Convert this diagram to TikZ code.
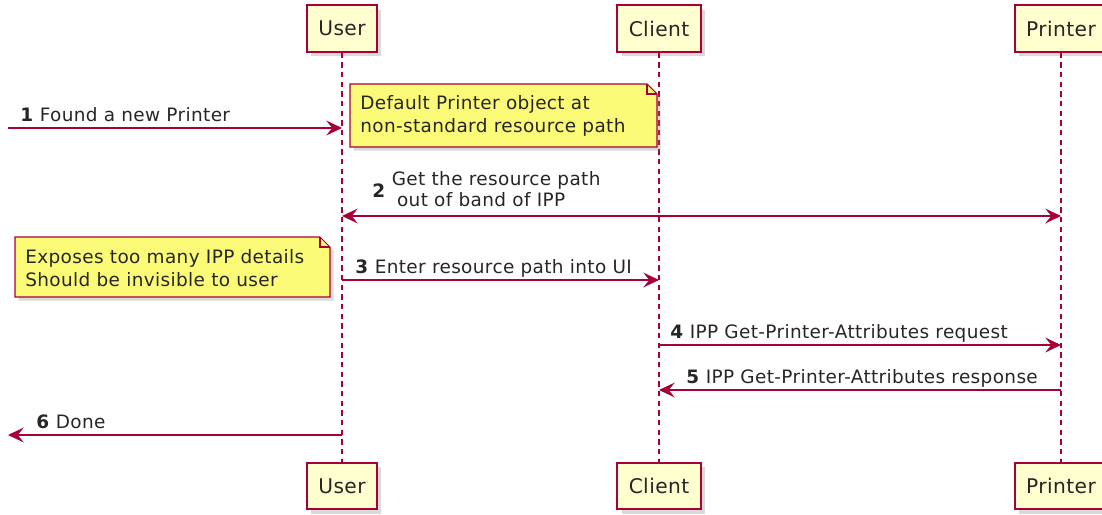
\documentclass[tikz,border=0pt]{standalone}
\usepackage{fontspec}
\setmainfont{DejaVu Sans}[LetterSpace=2]
\usetikzlibrary{arrows.meta, shadows}
\definecolor{umlred}{HTML}{A80036}
\definecolor{umlbox}{HTML}{FEFECE}
\definecolor{umlnote}{HTML}{FBFB77}
\tikzset{
	part/.style={rectangle, draw=umlred, fill=umlbox, line width=1.1pt, minimum height=26.6pt, inner xsep=6.5pt, font=\fontsize{11.5}{13}\selectfont, text=black!85, drop shadow={shadow xshift=2.5pt, shadow yshift=-2.5pt, opacity=0.3}},
	life/.style={umlred, line width=0.6pt, dash pattern=on 3pt off 2.5pt},
	msg/.style={umlred, line width=0.6pt, -{Stealth[length=9pt, width=8.5pt, inset=3.5pt]}},
	msgboth/.style={umlred, line width=0.6pt, {Stealth[length=9pt, width=8.5pt, inset=3.5pt]}-{Stealth[length=9pt, width=8.5pt, inset=3.5pt]}},
	lbl/.style={anchor=base west, inner sep=0pt, font=\fontsize{10.5}{12}\selectfont, text=black!85},
	notebox/.style={draw=umlred, fill=umlnote, line width=0.6pt, drop shadow={shadow xshift=2pt, shadow yshift=-2pt, opacity=0.3}},
	notetext/.style={anchor=west, inner sep=0pt, align=left, font=\fontsize{10.5}{13}\selectfont, text=black!85}
}
\begin{document}
\begin{tikzpicture}[x=0.02cm, y=-0.02cm]
	\useasboundingbox (0,0) rectangle (1102,514);
	\def\xu{342}
	\def\xc{659}
	\def\xp{1061}
	\def\yt{28.5}
	\def\yb{486}
	\def\xo{8}
	\node[part] (userT) at (\xu,\yt) {User};
	\node[part] (clientT) at (\xc,\yt) {Client};
	\node[part] (printerT) at (\xp,\yt) {Printer};
	\node[part] (userB) at (\xu,\yb) {User};
	\node[part] (clientB) at (\xc,\yb) {Client};
	\node[part] (printerB) at (\xp,\yb) {Printer};
	\draw[life] (userT) -- (userB);
	\draw[life] (clientT) -- (clientB);
	\draw[life] (printerT) -- (printerB);
%%%%
	\coordinate (in1) at (\xo,128);
	\coordinate (u1) at (\xu,128);
	\coordinate (u2) at (\xu,216);
	\coordinate (p2) at (\xp,216);
	\coordinate (u3) at (\xu,280);
	\coordinate (c3) at (\xc,280);
	\coordinate (c4) at (\xc,345);
	\coordinate (p4) at (\xp,345);
	\coordinate (c5) at (\xc,390);
	\coordinate (p5) at (\xp,390);
	\coordinate (u6) at (\xu,435);
	\coordinate (out6) at (\xo,435);
	\draw[msg] (in1) -- (u1);
	\draw[msgboth] (u2) -- (p2);
	\draw[msg] (u3) -- (c3);
	\draw[msg] (c4) -- (p4);
	\draw[msg] (p5) -- (c5);
	\draw[msg] (u6) -- (out6);
	\node[lbl] (m1) at (20,121) {\textbf{1} Found a new Printer};
	\node[lbl] (m2) at (372,197) {\textbf{2} \begin{tabular}{@{}l@{}}Get the resource path\\\hspace*{3pt}out of band of IPP\end{tabular}};
	\node[lbl] (m3) at (355,273) {\textbf{3} Enter resource path into UI};
	\node[lbl] (m4) at (670,338) {\textbf{4} IPP Get-Printer-Attributes request};
	\node[lbl] (m5) at (686,383) {\textbf{5} IPP Get-Printer-Attributes response};
	\node[lbl] (m6) at (36,428) {\textbf{6} Done};
%%%%
	\draw[notebox] (350,84) -- (647,84) -- (657,94) -- (657,147) -- (350,147) -- cycle;
	\draw[umlred, line width=0.6pt] (647,84) |- (657,94);
	\node[notetext] (note1) at (360,116) {Default Printer object at\\non-standard resource path};
	\draw[notebox] (15,237) -- (320,237) -- (330,247) -- (330,297) -- (15,297) -- cycle;
	\draw[umlred, line width=0.6pt] (320,237) |- (330,247);
	\node[notetext] (note2) at (25,268) {Exposes too many IPP details\\Should be invisible to user};
\end{tikzpicture}
\end{document}
